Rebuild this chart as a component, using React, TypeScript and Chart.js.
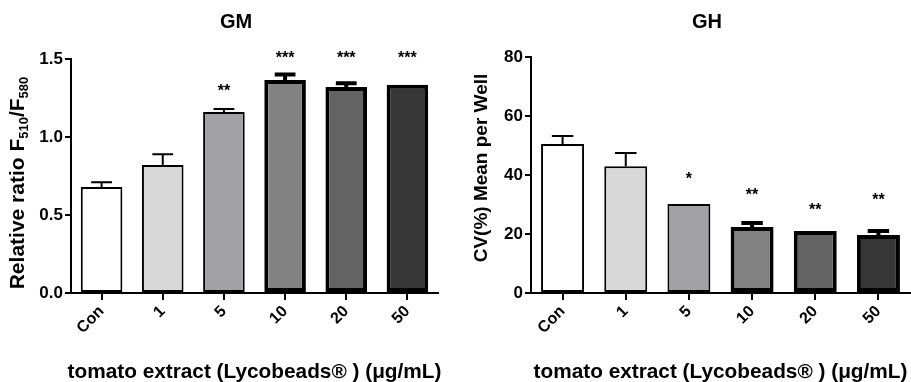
import React, { useEffect, useRef } from 'react';
import { Chart, registerables } from 'chart.js';
Chart.register(...registerables);

const categories = ['Con', '1', '5', '10', '20', '50'];
const gmValues = [0.68, 0.82, 1.16, 1.365, 1.32, 1.335];
const gmErrorTops = [0.71, 0.89, 1.18, 1.4, 1.345, 1.34];
const gmStars = ['', '', '**', '***', '***', '***'];
const gmStarLevels = [0, 0, 1.31, 1.52, 1.52, 1.52];
const gmTicks = [0, 0.5, 1.0, 1.5];

const ghValues = [50.5, 43.0, 30.2, 22.4, 21.0, 19.7];
const ghErrorTops = [53.2, 47.5, 30.2, 23.7, 21.2, 21.0];
const ghStars = ['', '', '*', '**', '**', '**'];
const ghStarLevels = [0, 0, 39.3, 33.9, 28.8, 32.2];
const ghTicks = [0, 20, 40, 60, 80];

const barColors = ['#ffffff', '#d8d8d8', '#a2a2a5', '#828282', '#636363', '#363636'];
const barBorderWidths = [2, 2, 2, 4, 4, 4];

const FONT = "'Liberation Sans', Arial, sans-serif";

type Part = { t: string; sub?: boolean };

function makeChart(
  canvas: HTMLCanvasElement,
  cfg: {
    values: number[];
    errs: number[];
    stars: string[];
    starLevels: number[];
    ticks: number[];
    max: number;
    decimals: number;
    title: string;
    titleX: number;
    yTitle: Part[];
    yTitleX: number;
    yTitleY: number;
    yTitleSize: number;
    xTitle: string;
    padding: { left: number; right: number; top: number; bottom: number };
  }
) {
  const overlay = {
    id: 'overlay',
    afterDatasetsDraw(chart: any) {
      const ctx = chart.ctx as CanvasRenderingContext2D;
      const meta = chart.getDatasetMeta(0);
      const ys = chart.scales.y;
      ctx.save();
      ctx.strokeStyle = '#000';
      meta.data.forEach((el: any, i: number) => {
        const { x, y, width } = el.getProps(['x', 'y', 'width'], true);
        const ye = ys.getPixelForValue(cfg.errs[i]);
        if (ye < y - 1) {
          ctx.lineWidth = barBorderWidths[i];
          ctx.beginPath();
          ctx.moveTo(x, y);
          ctx.lineTo(x, ye);
          ctx.moveTo(x - width / 4, ye);
          ctx.lineTo(x + width / 4, ye);
          ctx.stroke();
        }
        if (cfg.stars[i]) {
          ctx.fillStyle = '#000';
          ctx.font = `bold 16px ${FONT}`;
          ctx.textAlign = 'center';
          ctx.textBaseline = 'middle';
          ctx.fillText(cfg.stars[i], x, ys.getPixelForValue(cfg.starLevels[i]) + 3);
        }
      });
      ctx.restore();
    },
    afterDraw(chart: any) {
      const ctx = chart.ctx as CanvasRenderingContext2D;
      const area = chart.chartArea;
      ctx.save();
      ctx.fillStyle = '#000';
      // chart title
      ctx.font = `bold 20px ${FONT}`;
      ctx.textAlign = 'center';
      ctx.textBaseline = 'middle';
      ctx.fillText(cfg.title, cfg.titleX, 22);
      // x title
      ctx.font = `bold 20.8px ${FONT}`;
      ctx.textBaseline = 'alphabetic';
      ctx.fillText(cfg.xTitle, (area.left + area.right) / 2, 378);
      // y title with subscripts
      const mainFont = `bold ${cfg.yTitleSize}px ${FONT}`;
      const subFont = `bold 13px ${FONT}`;
      let total = 0;
      cfg.yTitle.forEach((p) => {
        ctx.font = p.sub ? subFont : mainFont;
        total += ctx.measureText(p.t).width;
      });
      ctx.translate(cfg.yTitleX, cfg.yTitleY);
      ctx.rotate(-Math.PI / 2);
      ctx.textAlign = 'left';
      ctx.textBaseline = 'middle';
      let cx = -total / 2;
      cfg.yTitle.forEach((p) => {
        ctx.font = p.sub ? subFont : mainFont;
        ctx.fillText(p.t, cx, p.sub ? 6 : 0);
        cx += ctx.measureText(p.t).width;
      });
      ctx.restore();
    },
  };

  return new Chart(canvas, {
    type: 'bar',
    data: {
      labels: categories,
      datasets: [
        {
          data: cfg.values,
          backgroundColor: barColors,
          borderColor: '#000',
          borderWidth: barBorderWidths,
          borderSkipped: false,
          categoryPercentage: 1,
          barPercentage: 0.68,
        },
      ],
    },
    options: {
      responsive: false,
      animation: false,
      layout: { padding: cfg.padding },
      plugins: { legend: { display: false }, tooltip: { enabled: false }, title: { display: false } },
      scales: {
        x: {
          offset: true,
          grid: { offset: false, drawOnChartArea: false, drawTicks: true, tickLength: 7, color: '#000', lineWidth: 2 },
          border: { color: '#000', width: 2 },
          ticks: {
            color: '#000',
            font: { family: FONT, size: 16, weight: 'bold' },
            minRotation: 45,
            maxRotation: 45,
            padding: 2,
          },
          afterFit: (s: any) => {
            s.height = 60;
          },
        },
        y: {
          min: 0,
          max: cfg.max,
          grid: { drawOnChartArea: false, drawTicks: true, tickLength: 6, color: '#000', lineWidth: 2 },
          border: { color: '#000', width: 2 },
          afterBuildTicks: (s: any) => {
            s.ticks = cfg.ticks.map((v) => ({ value: v }));
          },
          ticks: {
            color: '#000',
            font: { family: FONT, size: 17, weight: 'bold' },
            padding: 2,
            callback: (v: any) => Number(v).toFixed(cfg.decimals),
          },
          afterFit: (s: any) => {
            s.width = 50;
          },
        },
      },
    },
    plugins: [overlay],
  } as any);
}

export default function App() {
  const leftRef = useRef<HTMLCanvasElement>(null);
  const rightRef = useRef<HTMLCanvasElement>(null);

  useEffect(() => {
    const c1 = makeChart(leftRef.current!, {
      values: gmValues,
      errs: gmErrorTops,
      stars: gmStars,
      starLevels: gmStarLevels,
      ticks: gmTicks,
      max: 1.5,
      decimals: 1,
      title: 'GM',
      titleX: 236,
      yTitle: [{ t: 'Relative ratio F' }, { t: '510', sub: true }, { t: '/F' }, { t: '580', sub: true }],
      yTitleX: 18,
      yTitleY: 183,
      yTitleSize: 21,
      xTitle: 'tomato extract (Lycobeads® ) (μg/mL)',
      padding: { left: 21, right: 22, top: 59, bottom: 29 },
    });
    const c2 = makeChart(rightRef.current!, {
      values: ghValues,
      errs: ghErrorTops,
      stars: ghStars,
      starLevels: ghStarLevels,
      ticks: ghTicks,
      max: 80,
      decimals: 0,
      title: 'GH',
      titleX: 247,
      yTitle: [{ t: 'CV(%) Mean per Well' }],
      yTitleX: 22,
      yTitleY: 168,
      yTitleSize: 19,
      xTitle: 'tomato extract (Lycobeads® ) (μg/mL)',
      padding: { left: 21, right: 1, top: 57, bottom: 29 },
    });
    return () => {
      c1.destroy();
      c2.destroy();
    };
  }, []);

  return (
    <div style={{ position: 'absolute', left: 0, top: 0, width: 911, height: 382, background: '#fff' }}>
      <canvas ref={leftRef} width={460} height={382} style={{ position: 'absolute', left: 0, top: 0 }} />
      <canvas ref={rightRef} width={451} height={382} style={{ position: 'absolute', left: 460, top: 0 }} />
    </div>
  );
}
